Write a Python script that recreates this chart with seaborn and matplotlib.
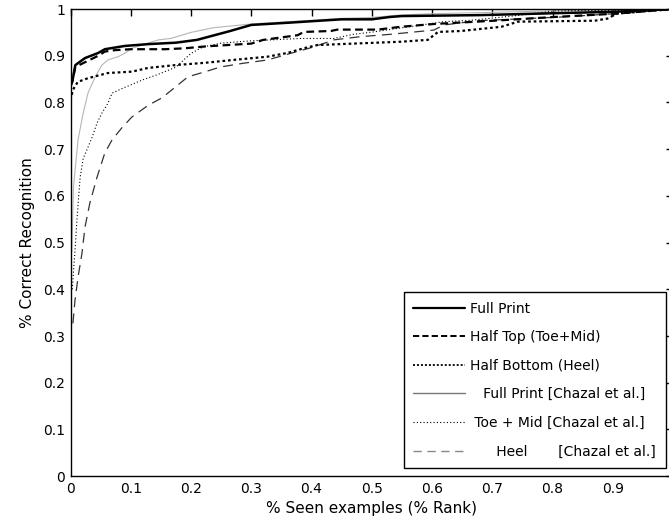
import numpy as np
import pandas as pd
import matplotlib
matplotlib.use("Agg")
import matplotlib.pyplot as plt
from matplotlib.lines import Line2D
import seaborn as sns

# values
full_x = [0, 0.003, 0.008, 0.024, 0.046, 0.057, 0.09, 0.13, 0.175, 0.21, 0.265, 0.3, 0.365,
          0.45, 0.5, 0.53, 0.55, 0.68, 0.8, 0.9, 1.0]
full_y = [0.835, 0.845, 0.88, 0.895, 0.906, 0.914, 0.921, 0.925, 0.928, 0.934, 0.953, 0.966, 0.971,
          0.978, 0.978, 0.983, 0.985, 0.987, 0.991, 0.994, 1.0]

top_x = [0, 0.003, 0.008, 0.046, 0.057, 0.074, 0.1, 0.157, 0.19, 0.224, 0.3, 0.32, 0.377, 0.387,
         0.432, 0.443, 0.51, 0.548, 0.603, 0.703, 0.803, 0.903, 1.0]
top_y = [0.835, 0.845, 0.876, 0.9, 0.909, 0.912, 0.914, 0.914, 0.916, 0.92, 0.926, 0.934, 0.944, 0.951,
         0.953, 0.956, 0.956, 0.962, 0.968, 0.975, 0.983, 0.99, 1.0]

bottom_x = [0, 0.004, 0.012, 0.029, 0.062, 0.102, 0.129, 0.174, 0.224, 0.27, 0.327, 0.36, 0.387,
            0.41, 0.548, 0.593, 0.61, 0.648, 0.715, 0.743, 0.87, 0.893, 0.905, 1.0]
bottom_y = [0.805, 0.827, 0.844, 0.852, 0.863, 0.866, 0.874, 0.88, 0.885, 0.891, 0.898, 0.906, 0.916,
            0.923, 0.93, 0.934, 0.951, 0.953, 0.962, 0.973, 0.975, 0.98, 0.99, 1.0]

chazal_full_x = [0.002, 0.005, 0.0125, 0.021, 0.029, 0.041, 0.052, 0.062, 0.079, 0.091, 0.102, 0.119,
                 0.136, 0.146, 0.166, 0.2, 0.237, 0.3, 0.45, 0.5, 0.545, 0.6, 0.7, 0.8, 1.0]
chazal_full_y = [0.48, 0.62, 0.72, 0.777, 0.82, 0.855, 0.88, 0.891, 0.898, 0.906, 0.916, 0.923,
                 0.93, 0.934, 0.937, 0.95, 0.96, 0.968, 0.98, 0.982, 0.987, 0.99, 0.993, 0.996, 1.0]

chazal_toe_x = [0.003, 0.005, 0.0075, 0.011, 0.016, 0.021, 0.027, 0.036, 0.044, 0.052, 0.062, 0.069,
                0.086, 0.119, 0.145, 0.174, 0.2, 0.22, 0.25, 0.3, 0.382, 0.437, 0.47, 0.503, 0.62,
                0.665, 0.748, 0.803, 0.903, 1.0]
chazal_toe_y = [0.40, 0.44, 0.484, 0.555, 0.64, 0.68, 0.698, 0.726, 0.756, 0.777, 0.798, 0.82,
                0.83, 0.848, 0.86, 0.875, 0.905, 0.919, 0.927, 0.932, 0.937, 0.937, 0.946, 0.951, 0.973,
                0.976, 0.987, 0.996, 0.997, 1.0]

chazal_heel_x = [0.004, 0.0075, 0.0125, 0.019, 0.024, 0.032, 0.044, 0.057, 0.069, 0.086, 0.102,
                 0.129, 0.152, 0.174, 0.195, 0.224, 0.249, 0.287, 0.327, 0.365, 0.404, 0.437, 0.482,
                 0.532, 0.603, 0.62, 0.676, 0.815, 0.903, 1.0]
chazal_heel_y = [0.327, 0.377, 0.426, 0.477, 0.533, 0.584, 0.64, 0.692, 0.72, 0.747, 0.769,
                 0.794, 0.81, 0.833, 0.855, 0.866, 0.876, 0.884, 0.891, 0.905, 0.919, 0.934, 0.941,
                 0.946, 0.955, 0.966, 0.975, 0.983, 0.99, 1.0]

labels = ["Full Print", "Half Top (Toe+Mid)", "Half Bottom (Heel)",
          "   Full Print [Chazal et al.]", " Toe + Mid [Chazal et al.]",
          "      Heel       [Chazal et al.]"]

sns.set_style("white")
plt.rcParams["font.family"] = ["DejaVu Sans"]
plt.rcParams["text.color"] = "black"
plt.rcParams["axes.labelcolor"] = "black"

fig = plt.figure(figsize=(6.69, 5.32), dpi=100)
ax = fig.add_axes([0.1054, 0.105, 0.9006, 0.878])

# line styles in legend order
styles = [
    dict(color="black", lw=1.8, linestyle="-"),
    dict(color="black", lw=1.6, linestyle=(0, (3.5, 2))),
    dict(color="black", lw=1.6, linestyle=(0, (1.2, 1.3))),
    dict(color="#b5b5b5", lw=0.8, linestyle="-"),
    dict(color="black", lw=0.8, linestyle=(0, (1, 2))),
    dict(color="#333333", lw=0.9, linestyle=(0, (8, 5))),
]
legend_styles = [
    dict(color="black", lw=1.6, linestyle="-"),
    dict(color="black", lw=1.4, linestyle=(0, (3.2, 1.6))),
    dict(color="black", lw=1.3, linestyle=(0, (1.1, 1.1))),
    dict(color="#777777", lw=1.0, linestyle="-"),
    dict(color="black", lw=0.8, linestyle=(0, (1, 2))),
    dict(color="#888888", lw=1.0, linestyle=(0, (6, 4))),
]
data = [(full_x, full_y), (top_x, top_y), (bottom_x, bottom_y),
        (chazal_full_x, chazal_full_y), (chazal_toe_x, chazal_toe_y), (chazal_heel_x, chazal_heel_y)]

# draw the Chazal curves first so the own results sit on top
for i in [3, 4, 5, 2, 1, 0]:
    xs, ys = data[i]
    df = pd.DataFrame({"x": xs, "y": ys})
    sns.lineplot(data=df, x="x", y="y", ax=ax, estimator=None, sort=False, **styles[i])

ax.set_xlim(0, 1)
ax.set_ylim(0, 1)
ax.set_xticks(np.arange(0, 0.95, 0.1))
ax.set_xticklabels(["0", "0.1", "0.2", "0.3", "0.4", "0.5", "0.6", "0.7", "0.8", "0.9"])
ax.set_yticks(np.arange(0, 1.05, 0.1))
ax.set_yticklabels(["0", "0.1", "0.2", "0.3", "0.4", "0.5", "0.6", "0.7", "0.8", "0.9", "1"])
ax.tick_params(direction="in", length=5, width=1, top=True, right=True,
               labelsize=10, colors="black", pad=4)
for s in ax.spines.values():
    s.set_color("black")
    s.set_linewidth(1.0)

ax.set_xlabel("% Seen examples (% Rank)", fontsize=11, labelpad=4)
ax.set_ylabel("% Correct Recognition", fontsize=11, labelpad=6)

proxies = [Line2D([0], [0], **st) for st in legend_styles]
leg = ax.legend(proxies, labels, loc="lower right", bbox_to_anchor=(0.988, 0.017),
                fontsize=10, frameon=True, fancybox=False, edgecolor="black", framealpha=1,
                borderaxespad=0, handlelength=3.7, labelspacing=1.05, handletextpad=0.4,
                borderpad=0.7)
leg.get_frame().set_linewidth(1.0)

fig.savefig("out.png", dpi=100)
